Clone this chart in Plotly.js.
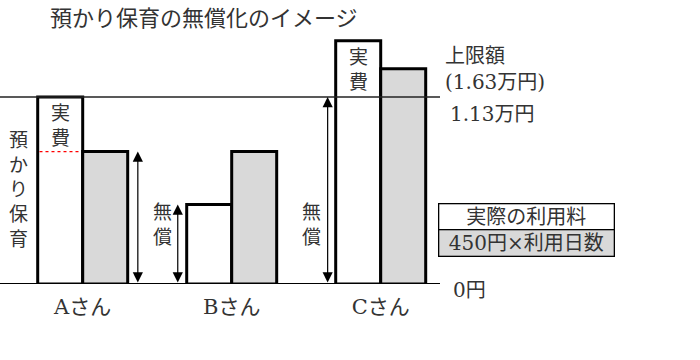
<!DOCTYPE html>
<html>
<head>
<meta charset="utf-8">
<script src="https://cdn.plot.ly/plotly-3.0.1.min.js"></script>
<style>html,body{margin:0;padding:0;background:#fff;}#chart{width:700px;height:360px;}</style>
</head>
<body>
<div id="chart"></div>
<script>
// ---- data (schematic heights, in 万円 units) ----
const categories = ['Aさん', 'Bさん', 'Cさん'];
const seriesNames = ['実際の利用料', '450円×利用日数'];
const actualFee = [1.13, 0.48, 1.47];   // 実際の利用料 (white bars)
const dailyFee  = [0.80, 0.80, 1.30];   // 450円×利用日数 (grey bars)
const limitValue = 1.13;                // 1.13万円 line
const limitText = '1.13万円';
const zeroText = '0円';
const capText = '上限額<br>(1.63万円)';
const titleText = '預かり保育の無償化のイメージ';
const freeLabel = '無<br>償';
const actualLabel = '実<br>費';
const careLabel = '預<br>か<br>り<br>保<br>育';
// 無償 arrows: A up to its 利用日数 bar, B up to its actual fee, C up to the limit
const freeAmounts = [dailyFee[0], actualFee[1], limitValue];

const jpFont = 'DejaVu Serif, Noto Sans CJK JP';
const txt = {family: jpFont, size: 19, color: '#333'};
const txt20 = {family: jpFont, size: 20, color: '#333'};

const traces = [
  {type: 'bar', name: seriesNames[0], x: categories, y: actualFee,
   marker: {color: '#ffffff', line: {color: '#000', width: 3}}, hoverinfo: 'skip'},
  {type: 'bar', name: seriesNames[1], x: categories, y: dailyFee,
   marker: {color: '#d9d9d9', line: {color: '#000', width: 3}}, hoverinfo: 'skip'}
];

const arrowX = [0.37, 0.638, 1.644];
const annotations = [];
arrowX.forEach((ax, i) => {
  annotations.push({x: ax, y: freeAmounts[i], ax: ax, ay: 0, xref: 'x', yref: 'y', axref: 'x', ayref: 'y',
    text: '', showarrow: true, arrowhead: 2, startarrowhead: 2, arrowside: 'end+start',
    arrowsize: 1.7, startarrowsize: 1.7, arrowwidth: 1.2, arrowcolor: '#000', standoff: 0, startstandoff: 0});
});
// 無償 labels
annotations.push({x: 0.537, y: 0.36, xref: 'x', yref: 'y', text: freeLabel, showarrow: false, font: txt});
annotations.push({x: 1.533, y: 0.36, xref: 'x', yref: 'y', text: freeLabel, showarrow: false, font: txt});
// 実費 labels
annotations.push({x: -0.151, y: 1.13, xref: 'x', yref: 'y', yanchor: 'top', yshift: -3, text: actualLabel, showarrow: false, font: txt});
annotations.push({x: 1.849, y: actualFee[2], xref: 'x', yref: 'y', yanchor: 'top', yshift: -3, text: actualLabel, showarrow: false, font: txt});
// 預かり保育
annotations.push({x: -0.43, y: 0.57, xref: 'x', yref: 'y', text: careLabel, showarrow: false, font: txt});
// right-hand labels
annotations.push({x: 1, xshift: 3, y: 1.302, xref: 'paper', yref: 'y', xanchor: 'left', align: 'left', text: capText, showarrow: false, font: txt20});
annotations.push({x: 1, xshift: 8, y: limitValue, xref: 'paper', yref: 'y', xanchor: 'left', yanchor: 'top', yshift: -3, text: limitText, showarrow: false, font: txt20});
annotations.push({x: 1, xshift: 11, y: 0, xref: 'paper', yref: 'y', xanchor: 'left', yanchor: 'middle', yshift: -6, text: zeroText, showarrow: false, font: txt20});
// legend boxes
annotations.push({x: 1, xshift: -2, y: 0.405, xref: 'paper', yref: 'y', xanchor: 'left', width: 174, height: 25, borderpad: 0,
  bgcolor: '#fff', bordercolor: '#000', borderwidth: 1.3, text: seriesNames[0], showarrow: false, font: txt20});
annotations.push({x: 1, xshift: -2, y: 0.245, xref: 'paper', yref: 'y', xanchor: 'left', width: 174, height: 25, borderpad: 0,
  bgcolor: '#d9d9d9', bordercolor: '#000', borderwidth: 1.3, text: seriesNames[1], showarrow: false, font: txt20});

const shapes = [
  {type: 'line', xref: 'paper', yref: 'y', x0: 0, x1: 1, y0: limitValue, y1: limitValue, line: {color: '#222', width: 1.3}},
  {type: 'line', xref: 'paper', yref: 'y', x0: 0, x1: 1, y0: 0, y1: 0, line: {color: '#000', width: 2}},
  {type: 'line', xref: 'x', yref: 'y', x0: -0.29, x1: -0.015, y0: dailyFee[0], y1: dailyFee[0], line: {color: '#ff0000', width: 1.3, dash: 'dot'}}
];

const layout = {
  width: 700, height: 360,
  margin: {l: 0, r: 260, t: 30, b: 76},
  paper_bgcolor: '#fff', plot_bgcolor: '#fff',
  showlegend: false,
  barmode: 'group', bargap: 0.396, bargroupgap: 0,
  title: {text: titleText, font: {family: jpFont, size: 22, color: '#333'},
          xref: 'container', x: 50/700, xanchor: 'left', yref: 'container', y: 1 - 18/360, yanchor: 'middle'},
  xaxis: {type: 'category', range: [-0.555, 2.398], showgrid: false, zeroline: false, showline: false,
          ticks: '', tickfont: {family: jpFont, size: 21, color: '#333'}, ticklabelstandoff: 8, fixedrange: true},
  yaxis: {range: [0, 254/165.5], showgrid: false, zeroline: false, showline: false, showticklabels: false, ticks: '', fixedrange: true},
  annotations: annotations,
  shapes: shapes
};

Plotly.newPlot('chart', traces, layout, {displayModeBar: false, staticPlot: true});
</script>
</body>
</html>
